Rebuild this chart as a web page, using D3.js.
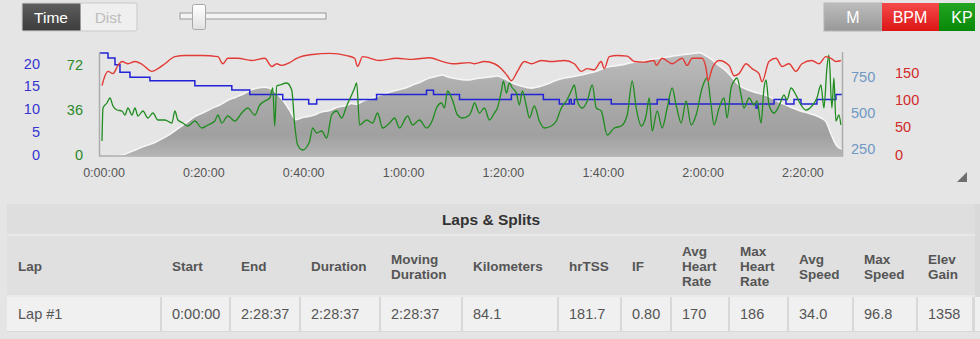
<!DOCTYPE html>
<html><head><meta charset="utf-8">
<script src="https://cdn.jsdelivr.net/npm/d3@7/dist/d3.min.js"></script>
<style>html,body{margin:0;padding:0;background:#e5e5e5;overflow:hidden}svg{display:block}</style>
</head><body><svg id="c" width="980" height="339"></svg>
<script>
// ---------------- DATA ----------------
const modeButtons = ["Time", "Dist"];
const seriesButtons = ["M", "BPM", "KP"];
const timeTicks = [0, 20, 40, 60, 80, 100, 120, 140];           // minutes
const timeTickLabels = ["0:00:00","0:20:00","0:40:00","1:00:00","1:20:00","1:40:00","2:00:00","2:20:00"];
const blueTicks = [0, 5, 10, 15, 20];
const greenTicks = [0, 36, 72];
const elevTicks = [250, 500, 750];
const hrTicks = [0, 50, 100, 150];
const totalMinutes = 148.62;

// elevation [minute, metres]
const elevation = [[0,200],[4,205],[6.5,236],[9,271],[10.8,292],[12.4,320],[14,352],[15.6,391],[17.2,430],[19,475],[20.6,500],[22.4,532],[24,556],[25.6,588],[27.2,610],[29,637],[30.2,660],[31.6,673],[32.8,680],[34,672],[35,651],[36.6,590],[38,518],[39.2,454],[40.8,470],[42.6,482],[44.2,505],[46,518],[47.6,540],[49.4,553],[50.4,566],[51.4,560],[52.6,581],[54.2,600],[56,623],[57.6,640],[59.4,658],[61,672],[62.6,694],[64.2,716],[66,743],[67.4,755],[68.6,764],[69.6,752],[70.6,743],[72.2,733],[74,729],[75.2,738],[76.4,743],[78,750],[79.6,757],[80.6,745],[81.6,729],[82.6,708],[84.4,687],[86.4,673],[88.4,687],[89.8,705],[91,722],[93,743],[94.6,752],[96.4,764],[98,778],[99.6,792],[101,813],[103,827],[104.8,836],[106.4,849],[108,856],[109.6,863],[110,870],[112,880],[114.4,893],[116.6,905],[118.4,912],[120,919],[121,905],[122,884],[123.6,840],[125.4,792],[126.8,740],[128,694],[130,658],[131.6,640],[133.4,623],[135,596],[136.6,567],[138.4,540],[140,518],[141.8,500],[143.4,482],[144.6,462],[145.4,440],[146.4,356],[147.6,271],[148.6,250]];

// heart rate [minute, bpm]
const heartRate = [[0.4,126],[1,144],[1.6,152],[2.6,148],[3.6,163],[4.4,170],[5.6,166],[7,170],[8.4,165],[10.4,152],[11.6,157],[13,166],[15,179],[17,181],[20.4,181],[23.6,179],[24.6,166],[25.6,176],[27.6,176],[30.4,172],[33,176],[34.4,161],[35.4,166],[36.4,163],[38,168],[39.4,176],[42.6,183],[46,185],[49.4,181],[51,176],[51.6,161],[52.6,179],[56,172],[59.4,176],[62.6,174],[66,177],[68.6,170],[70.6,166],[74,168],[75,166],[77,170],[79,166],[80.4,157],[81.6,144],[82.4,135],[83.6,152],[85,170],[86.4,166],[88.4,172],[90.4,170],[93,172],[95,166],[96.4,152],[97.6,157],[99,155],[100.4,170],[101,157],[102,179],[103.6,181],[105.6,180],[107,170],[109,169],[111,172],[111.4,163],[112.6,176],[114.6,166],[116.6,176],[117.6,163],[118.6,176],[120.6,176],[121.4,157],[121.8,135],[122.6,157],[124,172],[126,163],[127,144],[128,148],[129.4,166],[130.6,157],[132,148],[132.6,133],[134,170],[135.4,176],[136.6,161],[138,166],[139.4,152],[140.6,166],[142.6,172],[144,166],[145.4,179],[146.4,176],[147.4,170],[148.4,172]];

// green series [minute, value]
const greenSeries = [[0.4,10.8],[0.6,37.2],[1.4,41.2],[2,45.2],[2.6,38.8],[3.4,35.6],[4.4,34.8],[5,31.6],[5.6,37.2],[6.4,31.6],[7,37.2],[7.6,30.8],[8.6,34.8],[9.6,29.2],[10.6,33.2],[11.6,27.6],[13,27.6],[14.4,25.2],[15,34.8],[15.6,27.6],[16.6,25.2],[17.6,22.8],[19,26.8],[20.4,21.2],[21.6,23.6],[23,26.8],[23.6,31.6],[24.4,25.2],[25.6,30.8],[27,26.8],[28.4,33.2],[29.6,37.2],[31,31.6],[32,39.6],[33,42.8],[34,45.2],[34.6,53.2],[35,22.8],[35.4,54.8],[36,55.6],[37.4,57.2],[38.4,51.6],[39,23.6],[39.6,7.6],[40.6,3.6],[41.4,6],[42,10.8],[42.6,21.2],[43.4,17.2],[44.4,18.8],[45.4,13.2],[46.4,31.6],[47.4,34.8],[48.4,29.2],[49.4,38.8],[50.4,47.6],[51,53.2],[51.4,57.2],[52,23.6],[53.4,27.6],[54.6,25.2],[55.6,33.2],[56.6,21.2],[58,25.2],[59,29.2],[60,21.2],[61.6,30.8],[62.6,23.6],[64,27.6],[65.4,21.2],[66.6,27.6],[67.4,37.2],[68.4,41.2],[69,37.2],[69.6,50.8],[70.6,43.6],[71.6,31.6],[72.6,29.2],[74,31.6],[74.4,34.8],[75,41.2],[76,33.2],[77,37.2],[78,27.6],[79,33.2],[79.6,37.2],[80.4,50.8],[80.8,58.8],[81.4,49.2],[82,57.2],[82.6,53.2],[83.4,49.2],[84,39.6],[84.6,50.8],[85.4,38.8],[86,29.2],[87,38.8],[88,26.8],[89,21.2],[90.4,22.8],[91.4,26.8],[92.4,37.2],[93.4,42.8],[94.4,50.8],[95,55.6],[95.6,42.8],[96.6,37.2],[97.6,42.8],[98.6,55.6],[99.4,37.2],[100.4,34.8],[101.6,15.6],[103,21.2],[104.4,22.8],[105.6,31.6],[106.6,58.8],[107.4,37.2],[108.4,22.8],[109.4,31.6],[110,45.2],[110.6,18.8],[111.6,34.8],[112.6,21.2],[113.6,37.2],[114.6,53.2],[115.4,39.6],[116.4,25.2],[117.4,42.8],[118.4,23.6],[119.4,31.6],[120.6,53.2],[121.6,61.2],[122.4,39.6],[123,23.6],[124,37.2],[125,45.2],[125.6,29.2],[126.4,53.2],[127,58.8],[127.6,61.2],[128.4,47.6],[129,37.2],[130,45.2],[131,39.6],[131.6,42.8],[132.4,25.2],[133,53.2],[133.4,59.6],[134,39.6],[135,33.2],[136,38.8],[137,47.6],[137.6,43.6],[138.4,53.2],[139.4,47.6],[140.4,39.6],[141.4,35.6],[142.6,38.8],[143.6,45.2],[144.4,55.6],[145,37.2],[145.6,69.2],[146,79.6],[146.6,37.2],[147,61.2],[147.4,26.8],[148,31.6],[148.4,23.6]];

// blue step series [minute, value]
const blueSeries = [[0,22.3],[1.6,21.2],[3,19.7],[4,18.1],[6,17.0],[10,16.2],[19,15.1],[26.4,14.2],[30,13.2],[36.6,12.1],[41.8,11.1],[43.4,12.1],[55.4,13.2],[65.4,14.1],[66.8,13.2],[72,12.1],[82.4,13.2],[88.8,12.1],[92,11.1],[94,12.1],[94.4,11.1],[95,12.1],[102.4,11.1],[111.6,12.1],[114,11.1],[131.4,10.2],[131.8,11.1],[135,12.1],[137.4,11.1],[139,12.1],[140.4,11.1],[143.6,12.1],[147.4,13.2],[148.6,13.2]];

// table
const tableTitle = "Laps & Splits";
const colHeaders = [["Lap"],["Start"],["End"],["Duration"],["Moving","Duration"],["Kilometers"],["hrTSS"],["IF"],["Avg","Heart","Rate"],["Max","Heart","Rate"],["Avg","Speed"],["Max","Speed"],["Elev","Gain"]];
const lapRow = ["Lap #1","0:00:00","2:28:37","2:28:37","2:28:37","84.1","181.7","0.80","170","186","34.0","96.8","1358"];

// ---------------- DRAW ----------------
const FONT = "'Liberation Sans', Arial, Helvetica, sans-serif";
const svg = d3.select("#c");
svg.append("rect").attr("width",980).attr("height",339).attr("fill","#e5e5e5");
const defs = svg.append("defs");
function grad(id, stops, x1,y1,x2,y2, user){
  const g = defs.append("linearGradient").attr("id",id)
    .attr("x1",x1).attr("y1",y1).attr("x2",x2).attr("y2",y2);
  if (user) g.attr("gradientUnits","userSpaceOnUse");
  stops.forEach(s=>g.append("stop").attr("offset",s[0]).attr("stop-color",s[1]));
}
grad("gElev",[[0,"#bdbdbd"],[0.35,"#adadad"],[0.8,"#a0a0a0"],[1,"#b4b4b4"]],0,52,0,156,true);
grad("gDark",[[0,"#5e5e5e"],[1,"#3c3c3c"]],0,0,0,1);
grad("gGray",[[0,"#bdbdbd"],[1,"#989898"]],0,0,0,1);
grad("gRed",[[0,"#f54a4a"],[1,"#dc1515"]],0,0,0,1);
grad("gGreen",[[0,"#22a522"],[1,"#088808"]],0,0,0,1);
grad("gHandle",[[0,"#ffffff"],[1,"#e2e2e2"]],0,0,0,1);
defs.append("clipPath").attr("id","plotClip").append("rect")
  .attr("x",100).attr("y",48).attr("width",742).attr("height",108);

// top-left toggle
const tog = svg.append("g");
tog.append("rect").attr("x",22).attr("y",3).attr("width",115).attr("height",28).attr("rx",2)
  .attr("fill","#efefef").attr("stroke","#c9c9c9");
tog.append("rect").attr("x",22.5).attr("y",3.5).attr("width",58).attr("height",27).attr("fill","url(#gDark)");
tog.selectAll("text").data(modeButtons).join("text")
  .attr("x",(d,i)=>i===0?51:108).attr("y",17).attr("dy","0.36em").attr("text-anchor","middle")
  .attr("font-family",FONT).attr("font-size",15.5)
  .attr("fill",(d,i)=>i===0?"#ffffff":"#bdbdbd").text(d=>d);

// slider
svg.append("rect").attr("x",180).attr("y",13).attr("width",146).attr("height",6)
  .attr("fill","#f3f3f3").attr("stroke","#9a9a9a").attr("stroke-width",1);
svg.append("rect").attr("x",192.5).attr("y",4.5).attr("width",13).attr("height",25).attr("rx",2)
  .attr("fill","url(#gHandle)").attr("stroke","#a8a8a8");

// right buttons
const btnX = [824, 882, 939], btnW = [58, 57, 36], btnFill = ["url(#gGray)","url(#gRed)","url(#gGreen)"], btnTx=[853,910,962];
const bg = svg.append("g");
seriesButtons.forEach((b,i)=>{
  bg.append("rect").attr("x",btnX[i]).attr("y",3).attr("width",btnW[i]).attr("height",28).attr("fill",btnFill[i])
    .attr("stroke", i===0?"#b5b5b5":"none");
  bg.append("text").attr("x",btnTx[i]).attr("y",17).attr("dy","0.36em").attr("text-anchor","middle")
    .attr("font-family",FONT).attr("font-size",16).attr("fill","#fff").text(b);
});

// scales
const x = d3.scaleLinear().domain([0,totalMinutes]).range([100,842]);
const yBlue = d3.scaleLinear().domain([0,20]).range([154.5,63.5]);
const yGreen = d3.scaleLinear().domain([0,72]).range([154.5,64.5]);
const yElev = d3.scaleLinear().domain([250,750]).range([149,77]);
const yHr = d3.scaleLinear().domain([0,150]).range([154.5,72.5]);
const plotBottom = 155.5;

const plot = svg.append("g").attr("clip-path","url(#plotClip)");
plot.append("path").datum(elevation)
  .attr("d", d3.area().x(d=>x(d[0])).y0(plotBottom).y1(d=>yElev(d[1])).curve(d3.curveMonotoneX))
  .attr("fill","url(#gElev)");
plot.append("path").datum(elevation)
  .attr("d", d3.line().x(d=>x(d[0])).y(d=>yElev(d[1])).curve(d3.curveMonotoneX))
  .attr("fill","none").attr("stroke","#f6f6f6").attr("stroke-width",1.6);
plot.append("path").datum(blueSeries)
  .attr("d", d3.line().x(d=>x(d[0])).y(d=>yBlue(d[1])).curve(d3.curveStepAfter))
  .attr("fill","none").attr("stroke","#2323d6").attr("stroke-width",1.5);
plot.append("path").datum(greenSeries)
  .attr("d", d3.line().x(d=>x(d[0])).y(d=>yGreen(d[1])).curve(d3.curveMonotoneX))
  .attr("fill","none").attr("stroke","#1f8c1f").attr("stroke-width",1.3);
plot.append("path").datum(heartRate)
  .attr("d", d3.line().x(d=>x(d[0])).y(d=>yHr(d[1])).curve(d3.curveMonotoneX))
  .attr("fill","none").attr("stroke","#e23b36").attr("stroke-width",1.4);

// frame
const fr = svg.append("g").attr("stroke","#acacac").attr("stroke-width",1.5).attr("fill","none");
fr.append("line").attr("x1",99.5).attr("x2",99.5).attr("y1",52).attr("y2",156.5);
fr.append("line").attr("x1",842.5).attr("x2",842.5).attr("y1",52).attr("y2",156.5);
fr.append("line").attr("x1",99).attr("x2",843).attr("y1",156).attr("y2",156);

// x labels
svg.append("g").selectAll("text").data(timeTicks).join("text")
  .attr("x",d=>x(d)+4).attr("y",172).attr("dy","0.36em").attr("text-anchor","middle")
  .attr("font-family",FONT).attr("font-size",12.5).attr("fill","#555")
  .text((d,i)=>timeTickLabels[i]);

// y labels
function ylabels(ticks, scale, xpos, anchor, color){
  svg.append("g").selectAll("text").data(ticks).join("text")
    .attr("x",xpos).attr("y",d=>scale(d)).attr("dy","0.36em").attr("text-anchor",anchor)
    .attr("font-family",FONT).attr("font-size",14.5).attr("fill",color).text(d=>d);
}
ylabels(blueTicks, yBlue, 40, "end", "#3535cf");
ylabels(greenTicks, yGreen, 83, "end", "#2a8a2a");
ylabels(elevTicks, yElev, 851, "start", "#6f98c4");
ylabels(hrTicks, yHr, 895, "start", "#d02a2a");

// resize grip
svg.append("path").attr("d","M967,172 L967,182 L957,182 Z").attr("fill","#6e6e6e");

// ---------------- TABLE ----------------
const colEdges = [7,161,230,300,380,462,558,621,671,729,788,853,917,973];
const tb = svg.append("g");
tb.append("rect").attr("x",7).attr("y",204).attr("width",973).attr("height",128).attr("fill","#d9d9d9");
tb.append("rect").attr("x",7).attr("y",204).attr("width",968).attr("height",30).attr("fill","#dedede");
tb.append("rect").attr("x",7).attr("y",234).attr("width",968).attr("height",2).attr("fill","#e8e8e8");
tb.append("rect").attr("x",7).attr("y",236).attr("width",968).attr("height",59).attr("fill","#e0e0e0");
tb.append("rect").attr("x",7).attr("y",295).attr("width",968).attr("height",2).attr("fill","#e9e9e9");
tb.append("text").attr("x",491).attr("y",219).attr("dy","0.36em").attr("text-anchor","middle")
  .attr("font-family",FONT).attr("font-weight","bold").attr("font-size",15.5).attr("fill","#333").text(tableTitle);

colHeaders.forEach((lines,i)=>{
  lines.forEach((ln,j)=>{
    tb.append("text").attr("font-family",FONT).attr("font-weight","bold").attr("font-size",13.5).attr("fill","#555")
      .attr("x",colEdges[i]+11)
      .attr("y",266.5 + (j-(lines.length-1)/2)*15).attr("dy","0.36em").text(ln);
  });
});
lapRow.forEach((v,i)=>{
  tb.append("rect").attr("x",colEdges[i]+(i===0?0:1)).attr("y",297)
    .attr("width",colEdges[i+1]-colEdges[i]-(i===0?1:2)).attr("height",34).attr("fill","#f0f0f0");
  tb.append("text").attr("x",colEdges[i]+11).attr("y",314).attr("dy","0.36em")
    .attr("font-family",FONT).attr("font-size",14.5).attr("fill","#555").text(v);
});
tb.append("rect").attr("x",975).attr("y",297).attr("width",5).attr("height",34).attr("fill","#f0f0f0");
</script>
</body></html>
